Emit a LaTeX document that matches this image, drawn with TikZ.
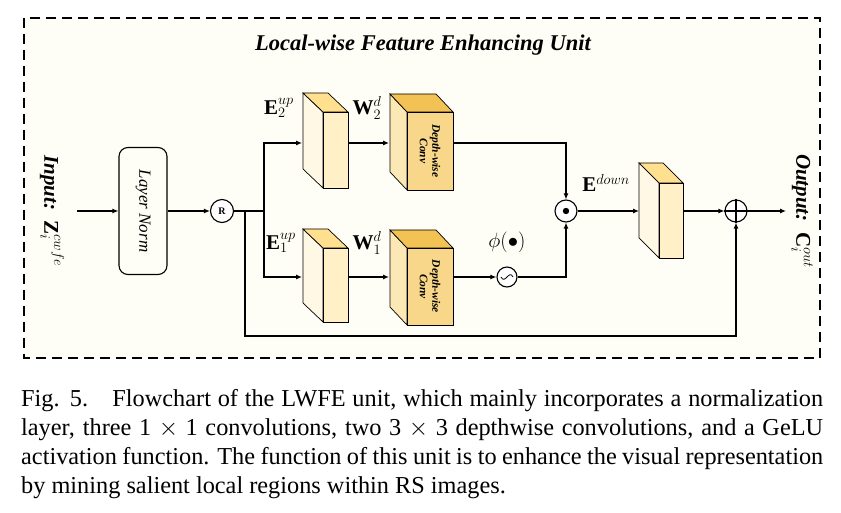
\documentclass[tikz,border=0pt]{standalone}
\usepackage{fontspec}
\setmainfont{Liberation Serif}
\usetikzlibrary{arrows.meta}
\definecolor{bg}{HTML}{FFFEF6}
\definecolor{cfront}{HTML}{FFF0C8}
\definecolor{cside}{HTML}{FFF8E4}
\definecolor{ctop}{HTML}{FFE08F}
\definecolor{dfront}{HTML}{F8D78A}
\definecolor{dside}{HTML}{FCE8B4}
\definecolor{dtop}{HTML}{F2C255}
\tikzset{
 ln/.style={line width=1.1pt},
 arr/.style={ln,-{Latex[length=6pt,width=5pt]}},
 op/.style={circle,draw,ln,fill=white,inner sep=0pt},
 lab/.style={font=\fontsize{21}{21}\selectfont,inner sep=1pt},
 side/.style={font=\bfseries\itshape\fontsize{21}{21}\selectfont,rotate=-90}
}
\begin{document}
\begin{tikzpicture}[x=1pt,y=-1pt]
\useasboundingbox (0,0) rectangle (841,513);
\fill[white] (0,0) rectangle (841,513);
\draw[fill=bg,line width=1.3pt,dash pattern=on 10pt off 6pt] (24,18) rectangle (820,358);
\node[font=\bfseries\itshape\fontsize{22.5}{22.5}\selectfont] (title) at (423,45) {Local-wise Feature Enhancing Unit};
\node[side] (in) at (52,211) {Input:\ \ $\mathbf{Z}_i^{cwfe}$};
\node[side] (out) at (802,211) {Output:\ \ $\mathbf{C}_i^{out}$};
\node[draw,ln,rounded corners=9pt,fill=bg,minimum width=48pt,minimum height=127pt,inner sep=0pt] (lnorm) at (143,211) {};
\node[font=\itshape\fontsize{17}{17}\selectfont,rotate=-90] at (lnorm) {Layer Norm};
\coordinate (inS) at (77,211);
\draw[arr] (inS) -- (lnorm.west);
\node[op,minimum size=23pt,font=\bfseries\normalsize] (R) at (222,211) {R};
\draw[arr] (lnorm.east) -- (R.west);
\foreach \n/\x/\y/\w/\h/\dx/\dy/\f/\s/\t in {
 e2/323/112/25/76/20/19/cfront/cside/ctop,
 e1/323/248/25/74/20/19/cfront/cside/ctop,
 w2/407/112/46/78/17/18/dfront/dside/dtop,
 w1/407/248/46/77/17/18/dfront/dside/dtop,
 ed/659/183/24/75/20/20/cfront/cside/ctop}{
 \draw[line width=0.7pt,fill=\s] (\x-\dx,\y-\dy) -- (\x,\y) -- (\x,\y+\h) -- (\x-\dx,\y+\h-\dy) -- cycle;
 \draw[line width=0.7pt,fill=\t] (\x-\dx,\y-\dy) -- (\x+\w-\dx,\y-\dy) -- (\x+\w,\y) -- (\x,\y) -- cycle;
 \draw[line width=0.7pt,fill=\f] (\x,\y) rectangle (\x+\w,\y+\h);
}
\node[font=\bfseries\itshape\fontsize{11.5}{12.5}\selectfont,rotate=-90,align=center] at (430,151) {Depth-wise\\Conv};
\node[font=\bfseries\itshape\fontsize{11.5}{12.5}\selectfont,rotate=-90,align=center] at (430,286.5) {Depth-wise\\Conv};
\coordinate (br) at (264,211);
\coordinate (e2a) at (302,143);
\coordinate (e1a) at (302,277);
\draw[arr] (R.east) -- (br) |- (e2a);
\draw[arr] (br) |- (e1a);
\draw[arr] (348,143) -- (389,143);
\draw[arr] (348,277) -- (389,277);
\node[op,minimum size=22pt] (dot) at (566,211) {};
\fill (dot) circle (3.2pt);
\node[op,minimum size=20pt] (sig) at (507,277) {};
\draw[line width=0.8pt] ([xshift=-6pt]sig.center) .. controls ([xshift=-2pt,yshift=-8pt]sig.center) and ([xshift=2pt,yshift=8pt]sig.center) .. ([xshift=6pt]sig.center);
\draw[arr] (453,143) -| (dot.north);
\draw[arr] (453,277) -- (sig.west);
\draw[arr] (sig.east) -| (dot.south);
\draw[arr] (dot.east) -- (639,211);
\node[op,minimum size=22pt] (plus) at (736,211) {};
\draw[ln] (plus.north) -- (plus.south) (plus.west) -- (plus.east);
\draw[arr] (683,211) -- (plus.west);
\coordinate (outE) at (786,211);
\draw[arr] (plus.east) -- (outE);
\coordinate (sk) at (245,211);
\draw[arr] (sk) -- (245,336) -| (plus.south);
\node[lab] at (279,108) {$\mathbf{E}_2^{up}$};
\node[lab] at (281,243) {$\mathbf{E}_1^{up}$};
\node[lab] at (367,108) {$\mathbf{W}_2^{d}$};
\node[lab] at (367,243) {$\mathbf{W}_1^{d}$};
\node[font=\fontsize{22}{22}\selectfont] at (507,242) {$\phi(\bullet)$};
\node[lab] at (606,183) {$\mathbf{E}^{down}$};
\node[anchor=north west,inner sep=0pt,text width=802pt,align=justify,font=\fontsize{24.3}{29}\selectfont] (cap) at (21,389) {Fig. 5.\quad Flowchart of the LWFE unit, which mainly incorporates a normal\-ization layer, three 1 $\times$ 1 convolutions, two 3 $\times$ 3 depthwise convolutions, and a GeLU activation function. The function of this unit is to enhance the visual representation by mining salient local regions within RS images.};
\end{tikzpicture}
\end{document}
